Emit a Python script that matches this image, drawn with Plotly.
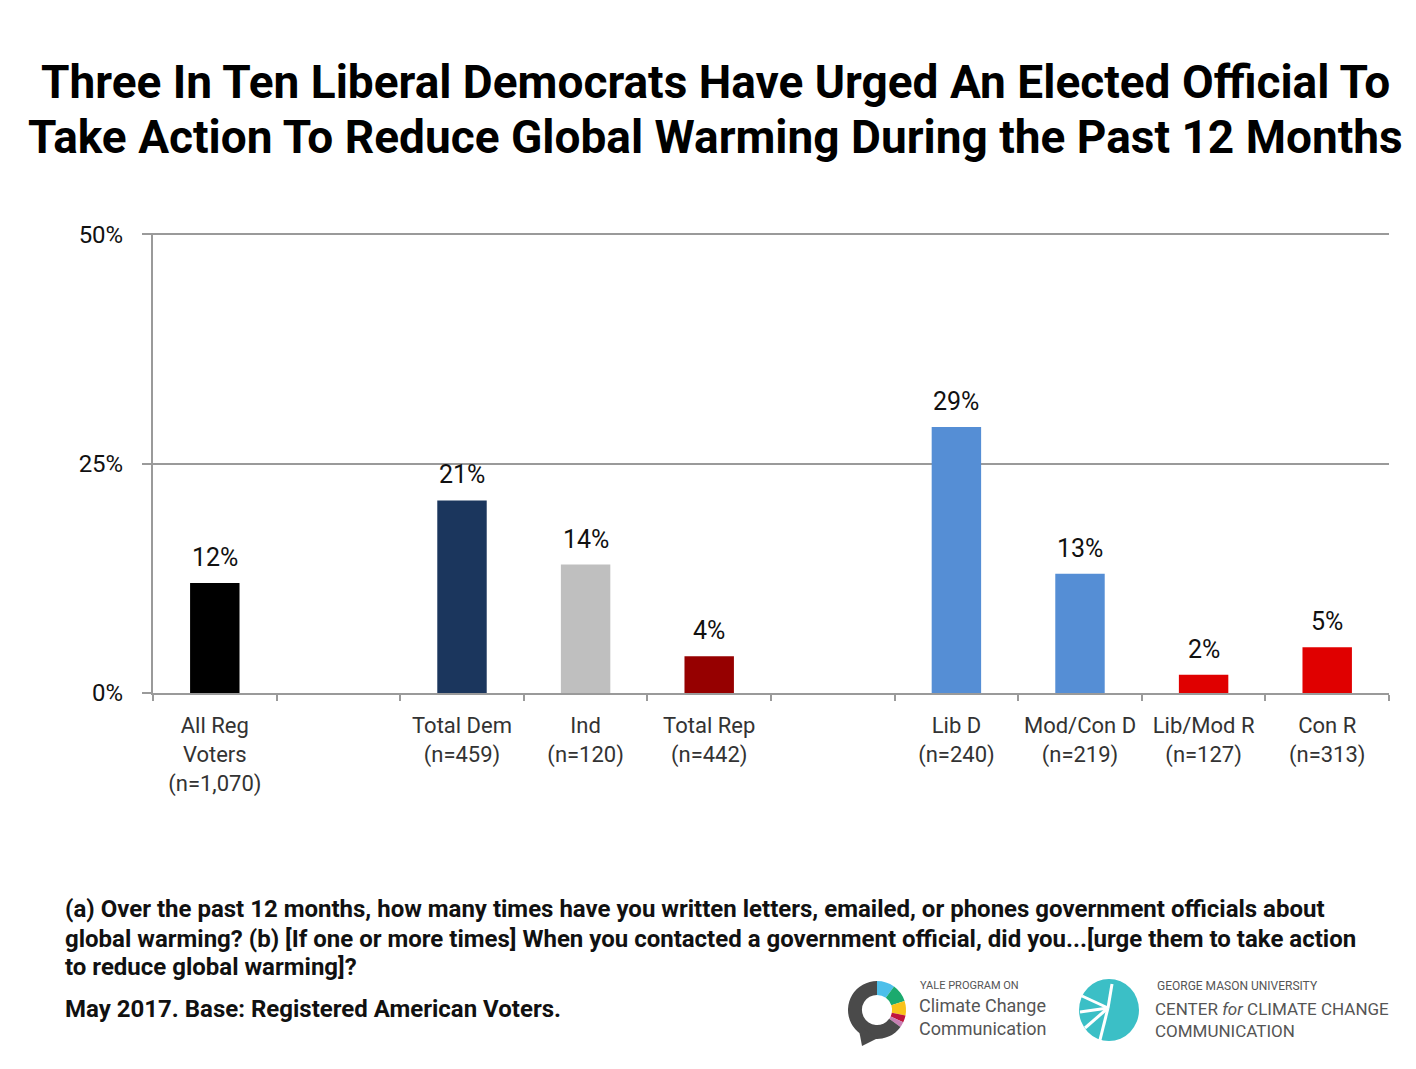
import plotly.graph_objects as go

# data
categories = ["All Reg<br>Voters<br>(n=1,070)", "Total Dem<br>(n=459)", "Ind<br>(n=120)",
              "Total Rep<br>(n=442)", "Lib D<br>(n=240)", "Mod/Con D<br>(n=219)",
              "Lib/Mod R<br>(n=127)", "Con R<br>(n=313)"]
values = [12, 21, 14, 4, 29, 13, 2, 5]
bar_colors = ["#000000", "#1B365D", "#BFBFBF", "#960000", "#558ED5", "#558ED5", "#E00000", "#E00000"]
# blank slots that separate the groups
axis_order = [categories[0], " ", categories[1], categories[2], categories[3], "  ",
              categories[4], categories[5], categories[6], categories[7]]
y_ticks = [0, 25, 50]
y_tick_text = ["0%", "25%", "50%"]

# yale logo ring pieces
ring_values = [10, 10, 8, 4, 3, 65]
ring_colors = ["#4DBFEA", "#1BAA6E", "#F9C31A", "#C0143C", "#C77FB3", "#4A4A4A"]

W, H = 1416, 1069


def fx(px):
    return px / W


def fy(py):
    return 1 - py / H


fig = go.Figure()

fig.add_trace(go.Bar(
    x=categories, y=values,
    marker=dict(color=bar_colors, line=dict(width=0)),
    width=0.4,
    showlegend=False,
))

# value labels above the bars
for c, v in zip(categories, values):
    fig.add_annotation(x=c, y=v, text=f"{v}%", xref="x", yref="y",
                       xanchor="center", yanchor="bottom", yshift=9, showarrow=False,
                       font=dict(family="Roboto", size=25, color="#111111"))

fig.add_trace(go.Pie(
    values=ring_values,
    marker=dict(colors=ring_colors, line=dict(width=0)),
    hole=0.52, sort=False, direction="clockwise", rotation=0,
    textinfo="none", showlegend=False, hoverinfo="skip",
    domain=dict(x=[fx(848), fx(906)], y=[fy(1039), fy(981)]),
))

fig.update_layout(
    template="none",
    width=W, height=H,
    margin=dict(l=0, r=0, t=0, b=0, autoexpand=False),
    paper_bgcolor="white", plot_bgcolor="white",
    xaxis=dict(
        domain=[fx(153), fx(1389)],
        type="category", categoryorder="array", categoryarray=axis_order,
        tickson="boundaries", ticks="outside", ticklen=6, tickcolor="#9a9a9a", tickwidth=2,
        showline=True, linecolor="#9a9a9a", linewidth=2, showgrid=False,
        tickangle=0, ticklabelstandoff=12,
        tickfont=dict(family="Roboto", size=22, color="#333333"),
        anchor="y", automargin=False,
    ),
    yaxis=dict(
        domain=[fy(693), fy(233)],
        range=[0, 50.15], tickmode="array", tickvals=y_ticks, ticktext=y_tick_text,
        ticks="outside", ticklen=9, tickcolor="#9a9a9a", tickwidth=2,
        showline=True, linecolor="#9a9a9a", linewidth=2,
        showgrid=True, gridcolor="#9a9a9a", gridwidth=1.5,
        zeroline=False, ticklabelstandoff=14,
        tickfont=dict(family="Roboto", size=24, color="#111111"),
        anchor="x", automargin=False,
    ),
    font=dict(family="Roboto"),
)

# title
title_lines = ["Three In Ten Liberal Democrats Have Urged An Elected Official To",
               "Take Action To Reduce Global Warming During the Past 12 Months"]
for line, py in zip(title_lines, [82, 137]):
    fig.add_annotation(text=f"<b>{line}</b>", x=fx(716), y=fy(py), xref="paper", yref="paper",
                       xanchor="center", yanchor="middle", showarrow=False,
                       font=dict(family="Roboto", size=46, color="#000000"))

# footnote
notes = ["(a) Over the past 12 months, how many times have you written letters, emailed, or phones government officials about",
         "global warming? (b) [If one or more times] When you contacted a government official, did you...[urge them to take action",
         "to reduce global warming]?",
         "May 2017. Base: Registered American Voters."]
for line, py in zip(notes, [909, 939, 967, 1009]):
    fig.add_annotation(text=f"<b>{line}</b>", x=fx(63), y=fy(py), xref="paper", yref="paper",
                       xanchor="left", yanchor="middle", showarrow=False,
                       font=dict(family="Roboto", size=24, color="#111111"))

# yale logo text + speech tail
fig.add_shape(type="path", xref="paper", yref="paper",
              path=f"M {fx(858)} {fy(1025)} L {fx(878)} {fy(1038)} L {fx(862)} {fy(1046)} Z",
              fillcolor="#4A4A4A", line=dict(width=0))
fig.add_annotation(text="YALE PROGRAM ON", x=fx(918), y=fy(985), xref="paper", yref="paper",
                   xanchor="left", yanchor="middle", showarrow=False,
                   font=dict(family="Roboto", size=11, color="#555555"))
fig.add_annotation(text="Climate Change<br>Communication", x=fx(917), y=fy(1017), xref="paper", yref="paper",
                   xanchor="left", yanchor="middle", align="left", showarrow=False,
                   font=dict(family="Roboto", size=18, color="#555555"))

# gmu logo
fig.add_shape(type="circle", xref="paper", yref="paper",
              x0=fx(1079), x1=fx(1139), y0=fy(1041), y1=fy(979),
              fillcolor="#3BBFC6", line=dict(width=0))
for ex, ey in [(1082, 996), (1080, 1012), (1085, 1028), (1100, 1040), (1112, 984)]:
    fig.add_shape(type="line", xref="paper", yref="paper",
                  x0=fx(1108), y0=fy(1008), x1=fx(ex), y1=fy(ey),
                  line=dict(color="white", width=3))
fig.add_annotation(text="GEORGE MASON UNIVERSITY", x=fx(1155), y=fy(986), xref="paper", yref="paper",
                   xanchor="left", yanchor="middle", showarrow=False,
                   font=dict(family="Roboto", size=12, color="#555555"))
fig.add_annotation(text="CENTER <i>for</i> CLIMATE CHANGE<br>COMMUNICATION", x=fx(1153), y=fy(1020),
                   xref="paper", yref="paper", xanchor="left", yanchor="middle", align="left",
                   showarrow=False, font=dict(family="Roboto", size=17, color="#555555"))

fig.write_html("out.html", config={"displayModeBar": False},
               post_script="document.body.style.margin='0px';")
